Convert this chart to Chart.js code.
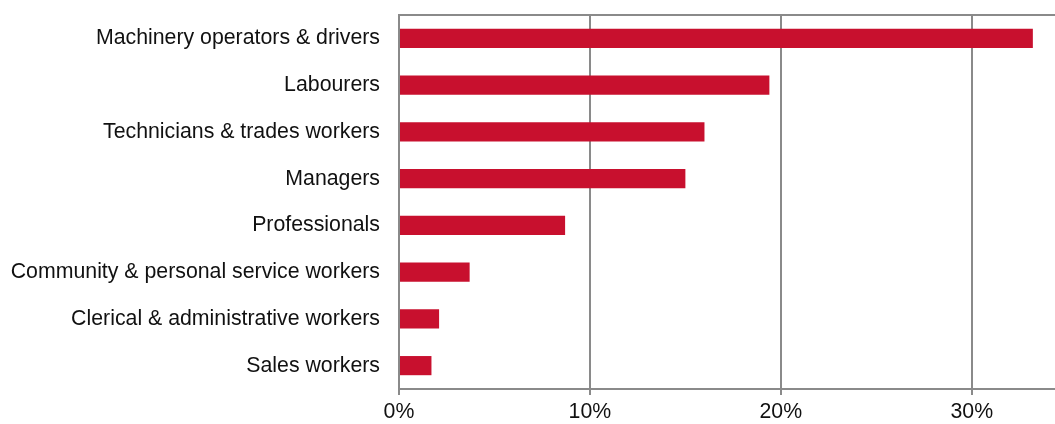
<!DOCTYPE html>
<html>
<head>
<meta charset="utf-8">
<script src="https://cdn.jsdelivr.net/npm/chart.js@4"></script>
<style>
    html, body { margin: 0; padding: 0; background: #fff; }
    #wrap { width: 1055px; height: 424px; position: relative; }
</style>
</head>
<body>
<div id="wrap"><canvas id="occChart"></canvas></div>
<script>
const occupations = [
    "Machinery operators & drivers",
    "Labourers",
    "Technicians & trades workers",
    "Managers",
    "Professionals",
    "Community & personal service workers",
    "Clerical & administrative workers",
    "Sales workers"
];
const shares = [33.2, 19.4, 16.0, 15.0, 8.7, 3.7, 2.1, 1.7];
const xTicks = [0, 10, 20, 30];

const gridGrey = "#8a8a8a";
const labelFont = { family: "'Liberation Sans', Arial, sans-serif", size: 21.3 };

// line along the top of the plot area
const topEdge = {
    id: "topEdge",
    afterDraw(chart) {
        const { ctx, chartArea } = chart;
        ctx.save();
        ctx.strokeStyle = gridGrey;
        ctx.lineWidth = 2;
        ctx.beginPath();
        ctx.moveTo(chartArea.left, chartArea.top);
        ctx.lineTo(chart.width, chartArea.top);
        ctx.stroke();
        ctx.restore();
    }
};

const ctx = document.getElementById("occChart").getContext("2d");
new Chart(ctx, {
    type: "bar",
    data: {
        labels: occupations,
        datasets: [{
            data: shares,
            backgroundColor: "#c8102e",
            borderWidth: 0,
            barPercentage: 0.41,
            categoryPercentage: 1
        }]
    },
    plugins: [topEdge],
    options: {
        indexAxis: "y",
        responsive: true,
        maintainAspectRatio: false,
        animation: false,
        layout: { padding: 0 },
        plugins: {
            legend: { display: false },
            tooltip: { enabled: false }
        },
        scales: {
            x: {
                min: 0,
                max: 34.36,
                afterBuildTicks: (scale) => {
                    scale.ticks = xTicks.map(v => ({ value: v }));
                },
                afterFit: (scale) => { scale.height = 35; },
                ticks: {
                    color: "#111",
                    font: labelFont,
                    padding: 4,
                    maxRotation: 0,
                    callback: (v) => v + "%"
                },
                grid: {
                    color: gridGrey,
                    lineWidth: 2,
                    tickLength: 6
                },
                border: { color: gridGrey, width: 2 }
            },
            y: {
                afterFit: (scale) => {
                    scale.width = 399;
                    scale.paddingTop = 15;
                    scale.paddingBottom = 0;
                },
                ticks: {
                    color: "#111",
                    font: labelFont,
                    padding: 19
                },
                grid: { display: false, drawTicks: false },
                border: { color: gridGrey, width: 2 }
            }
        }
    }
});
</script>
</body>
</html>
